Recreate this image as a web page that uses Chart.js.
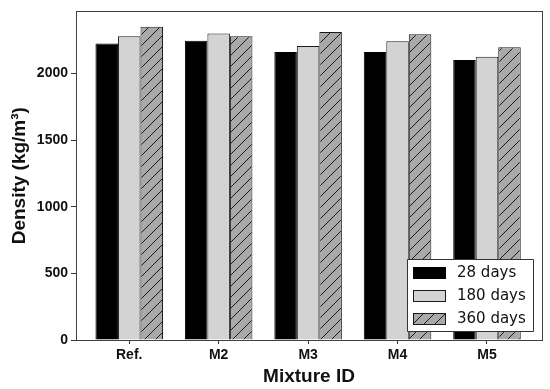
<!DOCTYPE html>
<html>
<head>
    <meta charset="UTF-8">
    <title>Density</title>
    <script src="https://cdn.jsdelivr.net/npm/chart.js"></script>
    <style>
        html, body {
            margin: 0;
            padding: 0;
            background: white;
        }
    </style>
</head>
<body>
<canvas id="densityChart" width="550" height="389"></canvas>
<script>
    // data
    const mixtures = ['Ref.', 'M2', 'M3', 'M4', 'M5'];
    const seriesNames = ['28 days', '180 days', '360 days'];
    const days28 = [2224, 2244, 2161, 2161, 2101];
    const days180 = [2279, 2299, 2206, 2241, 2124];
    const days360 = [2349, 2279, 2311, 2294, 2196];
    const yTicks = [0, 500, 1000, 1500, 2000];

    // diagonal hatch for the 360 days bars
    function makeHatch() {
        const size = 11;
        const c = document.createElement('canvas');
        c.width = size;
        c.height = size;
        const g = c.getContext('2d');
        g.fillStyle = '#a9a9a9';
        g.fillRect(0, 0, size, size);
        g.strokeStyle = '#1a1a1a';
        g.lineWidth = 1;
        g.beginPath();
        g.moveTo(-1, size + 1);
        g.lineTo(size + 1, -1);
        g.moveTo(-size / 2 - 1, size / 2 + 1);
        g.lineTo(size / 2 + 1, -size / 2 - 1);
        g.moveTo(size / 2 - 1, size * 1.5 + 1);
        g.lineTo(size * 1.5 + 1, size / 2 - 1);
        g.stroke();
        return g.createPattern(c, 'repeat');
    }

    const hatch = makeHatch();

    function toPoints(vals) {
        return vals.map((v, i) => ({x: i, y: v}));
    }

    // frame round the plot area
    const framePlugin = {
        id: 'frame',
        afterDatasetsDraw(chart) {
            const a = chart.chartArea;
            const ctx = chart.ctx;
            ctx.save();
            ctx.strokeStyle = '#404040';
            ctx.lineWidth = 1;
            ctx.strokeRect(Math.round(a.left) + 0.5, Math.round(a.top) + 0.5,
                Math.round(a.right - a.left), Math.round(a.bottom - a.top));
            ctx.restore();
        }
    };

    // legend box inside the lower right corner
    const boxLegend = {
        id: 'boxLegend',
        afterDraw(chart) {
            const a = chart.chartArea;
            const ctx = chart.ctx;
            const w = 126, h = 72;
            const x = a.right - 9 - w;
            const y = a.bottom - 9 - h;
            ctx.save();
            ctx.fillStyle = 'white';
            ctx.strokeStyle = '#333';
            ctx.lineWidth = 1;
            ctx.beginPath();
            ctx.rect(Math.round(x) + 0.5, Math.round(y) + 0.5, w, h);
            ctx.fill();
            ctx.stroke();
            ctx.font = '15px "DejaVu Sans"';
            ctx.textBaseline = 'middle';
            chart.data.datasets.forEach((ds, i) => {
                const cy = y + 13 + i * 23;
                ctx.fillStyle = ds.backgroundColor;
                ctx.strokeStyle = ds.borderColor;
                ctx.fillRect(Math.round(x) + 6, Math.round(cy - 5), 32, 11);
                ctx.strokeRect(Math.round(x) + 6.5, Math.round(cy - 5) + 0.5, 32, 11);
                ctx.fillStyle = '#111';
                ctx.fillText(ds.label, x + 50, cy + 1);
            });
            ctx.restore();
        }
    };

    const ctx = document.getElementById('densityChart').getContext('2d');
    new Chart(ctx, {
        type: 'bar',
        data: {
            datasets: [
                {label: seriesNames[0], data: toPoints(days28), backgroundColor: '#000000', borderColor: '#000000', borderWidth: 1},
                {label: seriesNames[1], data: toPoints(days180), backgroundColor: '#d3d3d3', borderColor: '#1a1a1a', borderWidth: 1},
                {label: seriesNames[2], data: toPoints(days360), backgroundColor: hatch, borderColor: '#1a1a1a', borderWidth: 1}
            ]
        },
        options: {
            responsive: false,
            animation: false,
            devicePixelRatio: 1,
            barPercentage: 1,
            categoryPercentage: 0.755,
            layout: {padding: {left: 0, right: 8, top: 11, bottom: 0}},
            plugins: {
                legend: {display: false},
                tooltip: {enabled: false}
            },
            scales: {
                x: {
                    type: 'linear',
                    offset: false,
                    min: -0.595,
                    max: 4.615,
                    afterBuildTicks(scale) {
                        scale.ticks = mixtures.map((m, i) => ({value: i}));
                    },
                    afterFit(scale) {
                        scale.height = 49;
                    },
                    ticks: {
                        callback: (v) => mixtures[v],
                        color: '#111',
                        font: {family: '"Liberation Sans", Arial', size: 14, weight: 'bold'},
                        padding: 3,
                        maxRotation: 0
                    },
                    grid: {drawOnChartArea: false, offset: false, tickLength: 4, color: '#333'},
                    border: {color: '#404040'},
                    title: {
                        display: true,
                        text: 'Mixture ID',
                        color: '#111',
                        font: {family: '"Liberation Sans", Arial', size: 19, weight: 'bold'},
                        padding: {top: 0, bottom: 1}
                    }
                },
                y: {
                    min: 0,
                    max: 2465,
                    afterBuildTicks(scale) {
                        scale.ticks = yTicks.map(v => ({value: v}));
                    },
                    afterFit(scale) {
                        scale.width = 76;
                    },
                    ticks: {
                        callback: (v) => String(v),
                        color: '#111',
                        font: {family: '"Liberation Sans", Arial', size: 14, weight: 'bold'},
                        padding: 3
                    },
                    grid: {drawOnChartArea: false, tickLength: 5, color: '#333'},
                    border: {color: '#404040'},
                    title: {
                        display: true,
                        text: 'Density (kg/m³)',
                        color: '#111',
                        font: {family: '"Liberation Sans", Arial', size: 19, weight: 'bold'},
                        padding: {top: 8, bottom: 0}
                    }
                }
            }
        },
        plugins: [framePlugin, boxLegend]
    });
</script>
</body>
</html>
